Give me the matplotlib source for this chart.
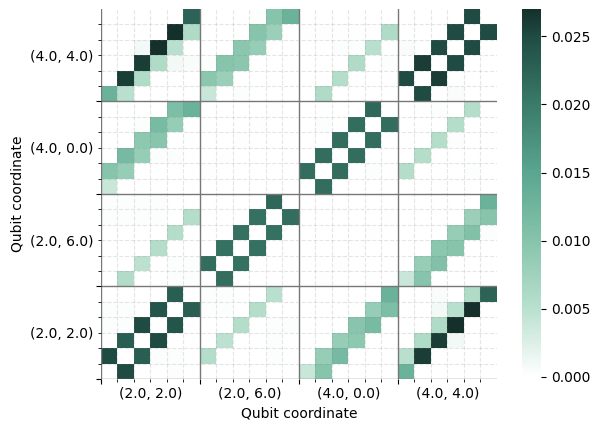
import numpy as np
import matplotlib
matplotlib.use("Agg")
import matplotlib.pyplot as plt
from matplotlib.colors import LinearSegmentedColormap

# qubit coordinates, one 6x6 block per qubit
coords = ["(2.0, 2.0)", "(2.0, 6.0)", "(4.0, 0.0)", "(4.0, 4.0)"]

# values in units of 1e-4, rows listed from the bottom of each block
rows_22 = [
	[0, 250, 0, 0, 3, 0,   0, 0, 0, 0, 0, 0,     40, 100, 0, 0, 0, 0,   130, 0, 0, 0, 0, 0],
	[250, 0, 230, 3, 3, 0, 55, 0, 0, 0, 3, 0,    0, 85, 118, 0, 0, 0,   50, 260, 0, 0, 0, 0],
	[0, 230, 0, 250, 0, 0, 0, 48, 0, 0, 3, 0,    0, 0, 85, 93, 0, 0,    0, 60, 260, 10, 0, 0],
	[3, 3, 250, 0, 240, 0, 0, 0, 55, 0, 3, 3,    0, 0, 0, 98, 115, 0,   0, 0, 60, 270, 0, 0],
	[3, 3, 0, 240, 0, 230, 3, 3, 0, 55, 0, 0,    0, 0, 0, 0, 85, 110,   0, 0, 10, 50, 270, 0],
	[0, 0, 0, 0, 230, 0,   3, 3, 0, 0, 50, 0,    0, 0, 0, 0, 0, 130,    0, 0, 5, 0, 60, 225],
]
rows_26 = [
	[0, 58, 0, 0, 3, 3,    0, 215, 0, 0, 0, 0,   0, 2, 0, 0, 2, 0,      40, 100, 0, 0, 0, 0],
	[0, 0, 48, 0, 3, 3,    215, 0, 210, 0, 0, 0, 0, 0, 2, 0, 0, 0,      0, 85, 105, 0, 0, 0],
	[0, 0, 0, 55, 0, 0,    0, 210, 0, 210, 0, 0, 0, 0, 0, 2, 0, 0,      0, 0, 95, 100, 0, 0],
	[0, 0, 0, 0, 55, 0,    0, 0, 210, 0, 210, 0, 0, 0, 0, 0, 2, 0,      0, 0, 0, 85, 105, 3],
	[3, 3, 3, 3, 0, 55,    0, 0, 0, 210, 0, 215, 0, 0, 0, 0, 0, 2,      0, 0, 0, 0, 80, 100],
	[3, 3, 3, 3, 0, 0,     0, 0, 0, 0, 220, 0,   0, 0, 0, 0, 0, 0,      0, 0, 0, 0, 0, 130],
]
rows_40 = [
	[40, 0, 0, 0, 0, 0,    0, 0, 0, 0, 0, 0,     0, 215, 0, 0, 0, 0,    0, 0, 0, 0, 0, 0],
	[100, 85, 0, 0, 0, 0,  2, 0, 0, 0, 0, 0,     215, 0, 215, 0, 3, 0,  55, 0, 0, 0, 3, 0],
	[0, 118, 85, 3, 3, 0,  0, 2, 0, 0, 0, 0,     0, 215, 0, 215, 0, 0,  0, 55, 0, 0, 0, 0],
	[0, 0, 93, 98, 0, 0,   0, 0, 2, 0, 0, 0,     0, 0, 215, 0, 215, 0,  0, 0, 55, 3, 0, 0],
	[0, 0, 3, 115, 85, 0,  0, 0, 0, 2, 0, 0,     0, 3, 0, 215, 0, 215,  0, 0, 0, 55, 0, 0],
	[0, 0, 0, 0, 110, 130, 0, 0, 0, 0, 2, 0,     0, 0, 0, 0, 220, 0,    0, 0, 3, 0, 55, 0],
]
rows_44 = [
	[130, 50, 0, 0, 0, 0,  40, 0, 3, 0, 0, 0,    0, 60, 0, 0, 0, 0,     0, 250, 0, 5, 0, 0],
	[0, 260, 60, 0, 0, 0,  95, 80, 0, 0, 0, 0,   0, 0, 55, 0, 0, 0,     250, 0, 260, 0, 0, 0],
	[0, 0, 260, 60, 10, 5, 3, 100, 95, 0, 0, 0,  0, 0, 0, 60, 0, 3,     0, 260, 0, 250, 0, 0],
	[0, 0, 10, 270, 50, 0, 0, 0, 95, 85, 0, 0,   0, 0, 3, 3, 50, 0,     5, 0, 250, 0, 250, 0],
	[0, 0, 0, 0, 270, 60,  0, 0, 0, 100, 80, 0,  2, 2, 2, 2, 2, 60,     0, 0, 0, 250, 0, 250],
	[0, 0, 0, 0, 0, 225,   0, 0, 0, 3, 100, 130, 0, 0, 0, 0, 0, 0,      0, 0, 0, 0, 250, 0],
]

data = np.vstack([rows_22, rows_26, rows_40, rows_44]) * 1e-4
n = data.shape[0]
size = n // len(coords)

cmap = LinearSegmentedColormap.from_list("greens", [
	(0.0, "#ffffff"), (0.185, "#b9e0ce"), (0.37, "#86c4ab"), (0.556, "#5aa690"),
	(0.741, "#3a7b69"), (0.926, "#1f4c43"), (1.0, "#15302b")])

fig = plt.figure(figsize=(5.99, 4.30), dpi=100)
ax = fig.add_axes([0.1686, 0.1186, 0.6611, 0.8605])
cax = fig.add_axes([0.8715, 0.1233, 0.0317, 0.8558])

mesh = ax.pcolormesh(np.arange(n + 1), np.arange(n + 1), data, cmap=cmap,
                     vmin=0, vmax=data.max())
ax.set_xlim(0, n)
ax.set_ylim(0, n)

# block edges as major ticks, every cell edge as minor, names at block centres
block_edges = np.arange(0, n, size)
names = [coords[i // size] if i % size == size // 2 else "" for i in range(n)]
ax.set_xticks(block_edges)
ax.set_xticklabels([])
ax.set_yticks(block_edges)
ax.set_yticklabels([])
ax.set_xticks(np.arange(n), minor=True)
ax.set_xticklabels(names, minor=True)
ax.set_yticks(np.arange(n), minor=True)
ax.set_yticklabels(names, minor=True)

ax.grid(which="major", color="#777777", linewidth=1.0)
ax.grid(which="minor", color="gray", linestyle="--", linewidth=0.8, alpha=0.2)
for s in ax.spines.values():
	s.set_visible(False)

ax.set_xlabel("Qubit coordinate")
ax.set_ylabel("Qubit coordinate")

cb = fig.colorbar(mesh, cax=cax)
cb.outline.set_visible(False)
cb.set_ticks([0, 0.005, 0.01, 0.015, 0.02, 0.025])
cb.ax.yaxis.set_major_formatter(matplotlib.ticker.FormatStrFormatter("%.3f"))

fig.savefig("out.png", dpi=100)
